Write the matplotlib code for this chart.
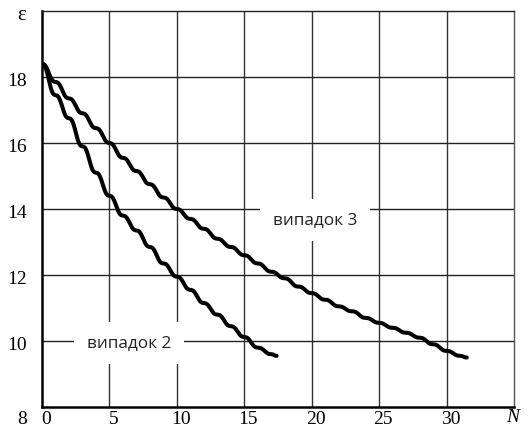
import numpy as np
import matplotlib
matplotlib.use("Agg")
import matplotlib.pyplot as plt
import matplotlib.transforms as mtransforms

# values, one per cycle N
n_case2 = [0, 1, 2, 3, 4, 5, 6, 7, 8, 9, 10, 11, 12, 13, 14, 15, 16, 17, 17.4]
eps_case2 = [18.4, 17.45, 16.75, 15.9, 15.1, 14.4, 13.8, 13.35, 12.85, 12.35,
             11.95, 11.55, 11.15, 10.8, 10.45, 10.12, 9.8, 9.6, 9.55]

n_case3 = [0, 1, 2, 3, 4, 5, 6, 7, 8, 9, 10, 11, 12, 13, 14, 15, 16, 17, 18, 19,
           20, 21, 22, 23, 24, 25, 26, 27, 28, 29, 30, 31, 31.5]
eps_case3 = [18.4, 17.85, 17.35, 16.9, 16.45, 16.0, 15.55, 15.15, 14.75, 14.35,
             14.0, 13.7, 13.4, 13.1, 12.85, 12.6, 12.35, 12.1, 11.9, 11.65,
             11.45, 11.25, 11.05, 10.9, 10.7, 10.55, 10.4, 10.25, 10.1, 9.9,
             9.7, 9.55, 9.5]

x_ticks = [0, 5, 10, 15, 20, 25, 30]
y_ticks = [8, 10, 12, 14, 16, 18]


def wavy(xs, ys, k=24, a=0.9):
    # draw each step between readings as a smoothed stair
    px, py = [xs[0]], [ys[0]]
    for x0, x1, y0, y1 in zip(xs[:-1], xs[1:], ys[:-1], ys[1:]):
        t = np.linspace(0, 1, k)[1:]
        s = t - a * np.sin(2 * np.pi * t) / (2 * np.pi)
        px.extend(x0 + (x1 - x0) * t)
        py.extend(y0 + (y1 - y0) * s)
    return px, py


fig = plt.figure(figsize=(5.29, 4.37), dpi=100)
ax = fig.add_axes([42 / 529, 30 / 437, 472 / 529, 396 / 437])

ax.set_xlim(0, 35)
ax.set_ylim(8, 20)

for x in x_ticks[1:]:
    ax.axvline(x, color="#333333", lw=1.0, zorder=1)
for y in y_ticks[1:]:
    ax.axhline(y, color="#222222", lw=1.0, zorder=1)

for n, e in [(n_case2, eps_case2), (n_case3, eps_case3)]:
    px, py = wavy(n, e)
    ax.plot(px, py, color="black", lw=2.9, solid_capstyle="round", zorder=3)

for side in ["left", "bottom"]:
    ax.spines[side].set_linewidth(1.8)
    ax.spines[side].set_color("black")
ax.spines["top"].set_linewidth(1.0)
ax.spines["top"].set_color("#222222")
ax.spines["right"].set_linewidth(1.0)
ax.spines["right"].set_color("#555555")

serif = "Liberation Serif"
ax.set_xticks(x_ticks)
ax.set_xticklabels([str(v) for v in x_ticks], fontfamily=serif, fontsize=14)
ax.set_yticks(y_ticks)
ax.set_yticklabels([str(v) for v in y_ticks], fontfamily=serif, fontsize=14)
ax.tick_params(length=0, pad=3)
ax.tick_params(axis="y", pad=11)

# nudge tick labels like in the scan
for lab in ax.get_xticklabels():
    lab.set_transform(lab.get_transform() + mtransforms.ScaledTranslation(4 / 100, 0, fig.dpi_scale_trans))
for lab, v in zip(ax.get_yticklabels(), y_ticks):
    dy = -10 if v == 8 else -3
    lab.set_transform(lab.get_transform() + mtransforms.ScaledTranslation(0, dy / 100, fig.dpi_scale_trans))

fig.text(22 / 529, 1 - 15 / 437, "ε", fontfamily=serif, fontsize=15, ha="center", va="center")
fig.text(513 / 529, 1 - 417 / 437, "N", fontfamily=serif, fontstyle="italic", fontsize=14,
         ha="center", va="center")

box = dict(facecolor="white", edgecolor="none", boxstyle="square,pad=0.75")
ax.text(6.45, 9.94, "випадок 2", fontfamily="Open Sans", fontsize=12.3, color="#222222",
        ha="center", va="center", bbox=box, zorder=2)
ax.text(20.24, 13.67, "випадок 3", fontfamily="Open Sans", fontsize=12.3, color="#222222",
        ha="center", va="center", bbox=box, zorder=2)

fig.savefig("out.png", dpi=100)
